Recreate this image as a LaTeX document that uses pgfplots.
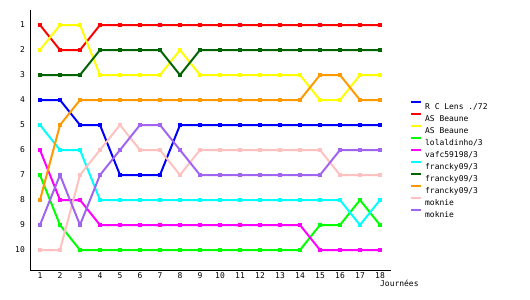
\documentclass[border=0pt]{standalone}
\usepackage{pgfplots}
\pgfplotsset{compat=1.18}
\usepackage{fontspec}
\setmainfont{DejaVu Sans Mono}
\definecolor{cblue}{RGB}{0,0,255}
\definecolor{cred}{RGB}{255,0,0}
\definecolor{cyel}{RGB}{255,255,0}
\definecolor{cgreen}{RGB}{0,255,0}
\definecolor{cmag}{RGB}{255,0,255}
\definecolor{ccyan}{RGB}{0,255,255}
\definecolor{cdgreen}{RGB}{0,100,0}
\definecolor{corange}{RGB}{255,153,0}
\definecolor{cpink}{RGB}{255,192,192}
\definecolor{cpurple}{RGB}{160,100,240}
\begin{document}
\begin{tikzpicture}
\begin{axis}[
  name=ax, scale only axis,
  width=361bp, height=260bp,
  xmin=0.5, xmax=18.55, ymin=0.4, ymax=10.8, y dir=reverse,
  axis lines=left, axis line style={-, line width=1bp},
  xtick={1,...,18}, ytick={1,...,10},
  major tick length=0pt,
  tick label style={font=\fontsize{8}{9}\selectfont},
  /pgf/number format/assume math mode=true,
  xticklabel style={inner sep=0pt, yshift=-2bp},
  yticklabel style={inner sep=0pt, xshift=-5bp},
  xlabel={Journées},
  xlabel style={font=\fontsize{8}{9}\selectfont, at={(axis description cs:0.9695,-0.037)}, anchor=north west, inner sep=0pt},
  every axis plot/.append style={line width=2bp, mark=square*, mark size=1.3bp, mark options={solid}},
  legend cell align=left,
  legend style={draw=none, fill=none, at={(1.0526,0.650)}, anchor=north west,
    inner sep=0pt, row sep=0pt, column sep=3bp, font=\fontsize{8}{9}\selectfont,
    nodes={inner sep=0pt, text height=6bp, text depth=4bp}},
  legend image code/.code={\draw[line width=2bp] (0bp,6bp) -- (10bp,6bp);},
]
\addplot[color=cblue] coordinates {(1,4)(2,4)(3,5)(4,5)(5,7)(6,7)(7,7)(8,5)(9,5)(10,5)(11,5)(12,5)(13,5)(14,5)(15,5)(16,5)(17,5)(18,5)};
\addlegendentry{R C Lens ./72}
\addplot[color=cred] coordinates {(1,1)(2,2)(3,2)(4,1)(5,1)(6,1)(7,1)(8,1)(9,1)(10,1)(11,1)(12,1)(13,1)(14,1)(15,1)(16,1)(17,1)(18,1)};
\addlegendentry{AS Beaune}
\addplot[color=cyel] coordinates {(1,2)(2,1)(3,1)(4,3)(5,3)(6,3)(7,3)(8,2)(9,3)(10,3)(11,3)(12,3)(13,3)(14,3)(15,4)(16,4)(17,3)(18,3)};
\addlegendentry{AS Beaune}
\addplot[color=cgreen] coordinates {(1,7)(2,9)(3,10)(4,10)(5,10)(6,10)(7,10)(8,10)(9,10)(10,10)(11,10)(12,10)(13,10)(14,10)(15,9)(16,9)(17,8)(18,9)};
\addlegendentry{lolaldinho/3}
\addplot[color=cmag] coordinates {(1,6)(2,8)(3,8)(4,9)(5,9)(6,9)(7,9)(8,9)(9,9)(10,9)(11,9)(12,9)(13,9)(14,9)(15,10)(16,10)(17,10)(18,10)};
\addlegendentry{vafc59198/3}
\addplot[color=ccyan] coordinates {(1,5)(2,6)(3,6)(4,8)(5,8)(6,8)(7,8)(8,8)(9,8)(10,8)(11,8)(12,8)(13,8)(14,8)(15,8)(16,8)(17,9)(18,8)};
\addlegendentry{francky09/3}
\addplot[color=cdgreen] coordinates {(1,3)(2,3)(3,3)(4,2)(5,2)(6,2)(7,2)(8,3)(9,2)(10,2)(11,2)(12,2)(13,2)(14,2)(15,2)(16,2)(17,2)(18,2)};
\addlegendentry{francky09/3}
\addplot[color=corange] coordinates {(1,8)(2,5)(3,4)(4,4)(5,4)(6,4)(7,4)(8,4)(9,4)(10,4)(11,4)(12,4)(13,4)(14,4)(15,3)(16,3)(17,4)(18,4)};
\addlegendentry{francky09/3}
\addplot[color=cpink] coordinates {(1,10)(2,10)(3,7)(4,6)(5,5)(6,6)(7,6)(8,7)(9,6)(10,6)(11,6)(12,6)(13,6)(14,6)(15,6)(16,7)(17,7)(18,7)};
\addlegendentry{moknie}
\addplot[color=cpurple] coordinates {(1,9)(2,7)(3,9)(4,7)(5,6)(6,5)(7,5)(8,6)(9,7)(10,7)(11,7)(12,7)(13,7)(14,7)(15,7)(16,6)(17,6)(18,6)};
\addlegendentry{moknie}
\end{axis}
\pgfresetboundingbox
\path[use as bounding box] ([xshift=-30bp,yshift=-30bp]ax.south west) rectangle ([xshift=139bp,yshift=10bp]ax.north east);
\end{tikzpicture}
\end{document}
